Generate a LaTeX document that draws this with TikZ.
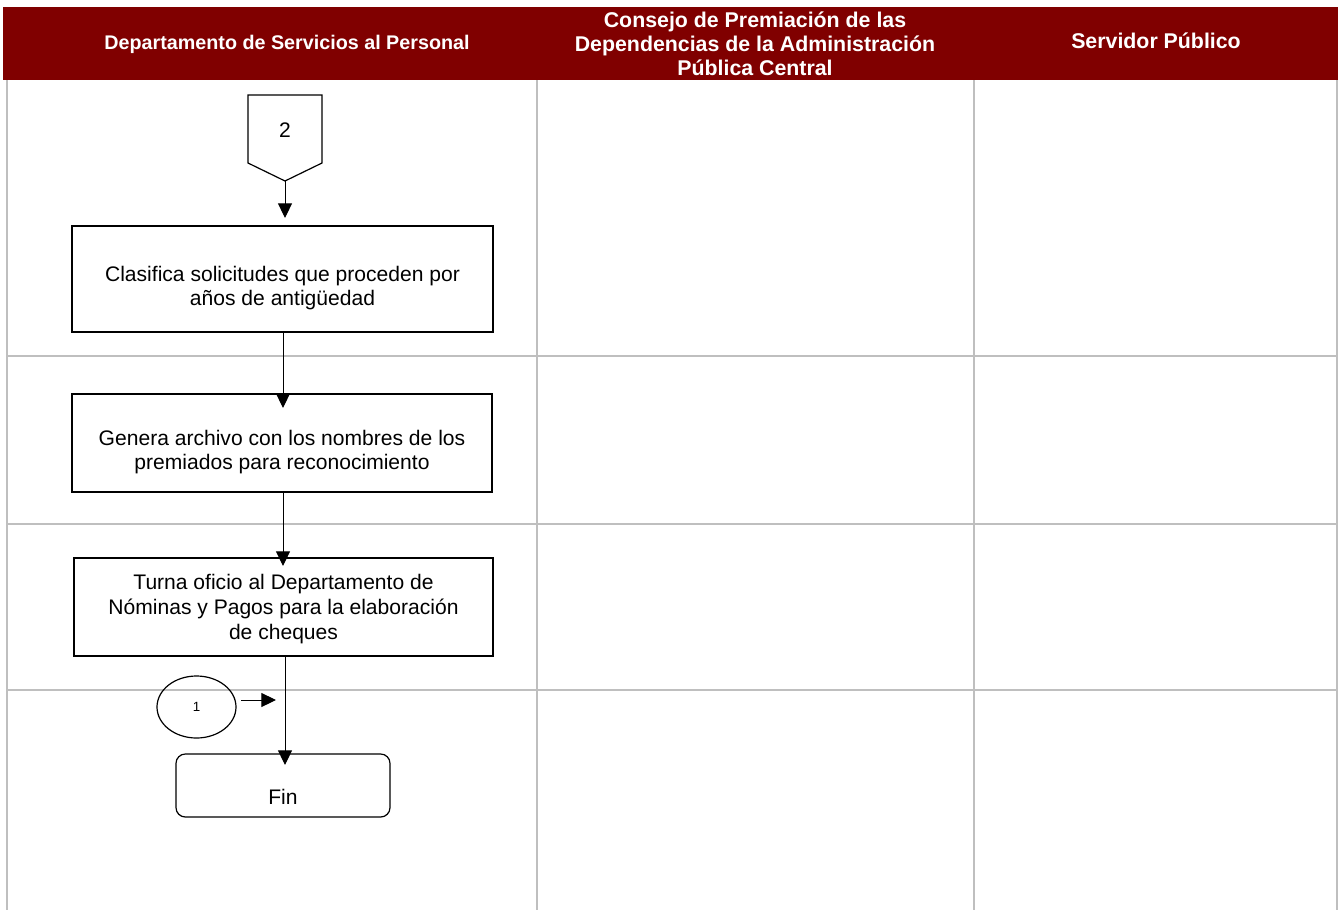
\documentclass[tikz,border=0pt]{standalone}
\usepackage{fontspec}
\setmainfont{Liberation Sans}
\usetikzlibrary{arrows.meta,shapes.geometric}
\definecolor{headred}{HTML}{800000}
\definecolor{lanegray}{HTML}{BFBFBF}
\begin{document}
\begin{tikzpicture}[x=0.75pt,y=-0.75pt,
  lane/.style={draw=lanegray,line width=1.5pt},
  hdr/.style={text=white,font=\bfseries\fontsize{14.8}{18}\selectfont,align=center},
  hdrwide/.style={hdr,font=\bfseries\fontsize{16}{18}\selectfont},
  procbox/.style={draw,line width=0.9pt,inner sep=0pt},
  proctext/.style={align=center,font=\fontsize{15.8}{18.6}\selectfont,inner sep=0pt},
  flow/.style={line width=0.75pt,-{Triangle[length=11pt,width=10.5pt]}}]
\useasboundingbox (0,0) rectangle (1338,910);
% header band
\fill[headred] (3,7) rectangle (1338,80);
\node[hdr] (h1) at (287,44) {Departamento de Servicios al Personal};
\node[hdrwide] (h2) at (755,44) {Consejo de Premiación de las\\Dependencias de la Administración\\Pública Central};
\node[hdrwide] (h3) at (1156,41) {Servidor Público};
% lane grid
\draw[lane] (7,80) -- (7,910);
\draw[lane] (537,80) -- (537,910);
\draw[lane] (974,80) -- (974,910);
\draw[lane] (1337,80) -- (1337,910);
\draw[lane] (7,356) -- (1337,356);
\draw[lane] (7,524) -- (1337,524);
\draw[lane] (7,690) -- (1337,690);
% off-page connector 2
\draw[line width=0.9pt] (248,95) -- (322,95) -- (322,163) -- (285,181) -- (248,163) -- cycle;
\node[proctext] (c2) at (285,130) {2};
\coordinate (c2b) at (285,181);
% process steps
\node[procbox,minimum width=421*0.75pt,minimum height=106*0.75pt] (b1) at (282.5,279) {};
\node[proctext] (b1t) at (282.5,288) {Clasifica solicitudes que proceden por\\años de antigüedad};
\node[procbox,minimum width=420*0.75pt,minimum height=98*0.75pt] (b2) at (282,443) {};
\node[proctext] (b2t) at (282,452) {Genera archivo con los nombres de los\\premiados para reconocimiento};
\node[procbox,minimum width=419*0.75pt,minimum height=98*0.75pt] (b3) at (283.5,607) {};
\node[proctext] (b3t) at (283.5,609) {Turna oficio al Departamento de\\Nóminas y Pagos para la elaboración\\de cheques};
\node[procbox,rounded corners=7pt,minimum width=214*0.75pt,minimum height=63*0.75pt] (fin) at (283,785.5) {};
\node[proctext] (fint) at (283,797) {Fin};
% on-page connector 1
\node[draw,ellipse,line width=0.9pt,minimum width=79*0.75pt,minimum height=62*0.75pt,inner sep=0pt,font=\fontsize{10}{12}\selectfont] (c1) at (196.5,707) {1};
\coordinate (c1a) at (241,700);
\coordinate (c1b) at (276,700);
% connectors
\draw[flow] (c2b) -- (285,218);
\draw[flow] (b1.south -| 283,0) -- (283,408);
\draw[flow] (b2.south -| 283,0) -- (283,566);
\draw[flow] (b3.south -| 285,0) -- (285,765);
\draw[flow] (c1a) -- (c1b);
\end{tikzpicture}
\end{document}
